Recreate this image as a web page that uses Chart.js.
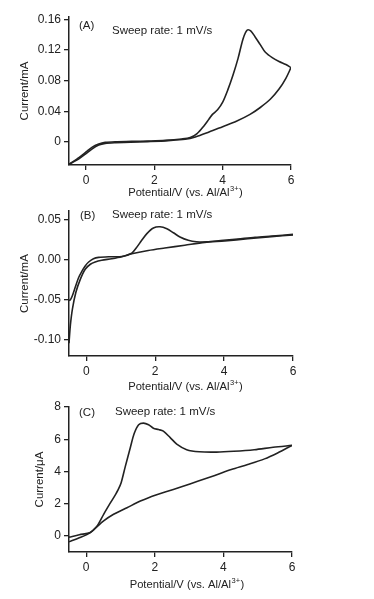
<!DOCTYPE html>
<html>
<head>
<meta charset="utf-8">
<script src="https://cdn.jsdelivr.net/npm/chart.js"></script>
<style>
  body { margin: 0; background: #fff; width: 374px; height: 599px; position: relative; overflow: hidden; }
  canvas { position: absolute; left: 0; }
</style>
</head>
<body>
<canvas id="chartA" width="374" height="201" style="top:0px"></canvas>
<canvas id="chartB" width="374" height="193" style="top:201px"></canvas>
<canvas id="chartC" width="374" height="205" style="top:394px"></canvas>
<script>
// shared x axis
const potentialTicks = [0, 2, 4, 6];

// (A) current in mA
const potA_fwd = [-0.5, -0.2, 0.0, 0.17, 0.37, 0.56, 0.86, 1.34, 1.83, 2.32, 2.8, 3.05, 3.25, 3.45, 3.6, 3.7, 3.85, 4.0, 4.15, 4.3, 4.45, 4.6, 4.72, 4.82, 4.95, 5.1, 5.25, 5.45, 5.65, 5.85, 6.0];
const curA_fwd = [-0.029, -0.02, -0.013, -0.007, -0.0027, -0.0005, 0.0004, 0.0008, 0.0013, 0.0021, 0.0039, 0.0058, 0.011, 0.021, 0.03, 0.036, 0.042, 0.052, 0.068, 0.087, 0.109, 0.135, 0.146, 0.145, 0.137, 0.127, 0.117, 0.11, 0.105, 0.101, 0.097];
const potA_rev = [6.0, 5.85, 5.65, 5.4, 5.1, 4.8, 4.4, 4.0, 3.6, 3.2, 2.9, 2.4, 1.8, 1.3, 0.86, 0.56, 0.37, 0.17, -0.02, -0.22, -0.4, -0.5];
const curA_rev = [0.097, 0.083, 0.069, 0.056, 0.045, 0.036, 0.027, 0.02, 0.013, 0.0065, 0.0035, 0.0018, 0.0005, -0.0004, -0.0009, -0.0018, -0.004, -0.0092, -0.0158, -0.0223, -0.0267, -0.029];
const yTicksA = [0, 0.04, 0.08, 0.12, 0.16];
const yLabelsA = ["0", "0.04", "0.08", "0.12", "0.16"];

// (B) current in mA
const potB_fwd = [-0.5, -0.46, -0.4, -0.32, -0.22, -0.12, -0.03, 0.07, 0.21, 0.36, 0.65, 1.03, 1.32, 1.45, 1.6, 1.76, 1.95, 2.14, 2.34, 2.53, 2.72, 2.96, 3.2, 3.5, 3.9, 4.4, 4.9, 5.4, 6.0];
const curB_fwd = [-0.0505, -0.0498, -0.0444, -0.0342, -0.0218, -0.0136, -0.0074, -0.0025, 0.0016, 0.0033, 0.0041, 0.0043, 0.0085, 0.015, 0.024, 0.033, 0.04, 0.0415, 0.039, 0.034, 0.0288, 0.0247, 0.0228, 0.0226, 0.0243, 0.0263, 0.0284, 0.03, 0.032];
const potB_rev = [6.0, 5.37, 4.69, 4.02, 3.44, 2.86, 2.28, 1.8, 1.32, 1.03, 0.74, 0.45, 0.26, 0.12, -0.03, -0.17, -0.3, -0.4, -0.46, -0.5];
const curB_rev = [0.0313, 0.0292, 0.0265, 0.0238, 0.022, 0.0185, 0.015, 0.0119, 0.0078, 0.0041, 0.0016, -0.0004, -0.0025, -0.0053, -0.0115, -0.0239, -0.0403, -0.061, -0.0815, -0.104];
const yTicksB = [-0.1, -0.05, 0, 0.05];
const yLabelsB = ["-0.10", "-0.05", "0.00", "0.05"];

// (C) current in uA
const potC_fwd = [-0.5, -0.2, 0.12, 0.32, 0.51, 0.71, 0.85, 0.93, 1.02, 1.14, 1.29, 1.4, 1.53, 1.67, 1.82, 1.96, 2.11, 2.25, 2.45, 2.64, 2.93, 3.3, 3.8, 4.3, 4.9, 5.45, 6.0];
const curC_fwd = [-0.08, 0.07, 0.21, 0.62, 1.34, 2.06, 2.55, 2.85, 3.3, 4.3, 5.5, 6.35, 6.9, 7.0, 6.9, 6.68, 6.6, 6.5, 6.1, 5.7, 5.35, 5.22, 5.2, 5.25, 5.35, 5.5, 5.62];
const potC_rev = [6.0, 5.58, 5.2, 4.71, 4.23, 3.75, 3.27, 2.78, 2.3, 1.82, 1.58, 1.19, 0.8, 0.51, 0.27, 0.1, -0.2, -0.5];
const curC_rev = [5.62, 5.15, 4.78, 4.43, 4.12, 3.75, 3.4, 3.05, 2.72, 2.37, 2.16, 1.75, 1.34, 0.93, 0.48, 0.17, -0.12, -0.37];
const yTicksC = [0, 2, 4, 6, 8];
const yLabelsC = ["0", "2", "4", "6", "8"];

const sweepText = "Sweep rate: 1 mV/s";
const FONT = '"Liberation Sans", Arial, sans-serif';
const INK = "#222";

const toPoints = (xs, ys) => xs.map((x, i) => ({ x: x, y: ys[i] }));

// panel letter, sweep rate note and the x title with its superscript
const panelText = {
  id: "panelText",
  afterDraw(chart, args, opts) {
    const ctx = chart.ctx;
    const area = chart.chartArea;
    ctx.save();
    ctx.fillStyle = INK;
    ctx.textBaseline = "middle";
    ctx.textAlign = "left";
    ctx.font = "11.5px " + FONT;
    ctx.fillText(opts.label, opts.labelX, opts.labelY);
    ctx.fillText(sweepText, opts.sweepX, opts.sweepY);

    const main = "Potential/V (vs. Al/Al";
    const sup = "3+";
    const tail = ")";
    ctx.font = "11.2px " + FONT;
    const wMain = ctx.measureText(main).width;
    const wTail = ctx.measureText(tail).width;
    ctx.font = "7.5px " + FONT;
    const wSup = ctx.measureText(sup).width;
    let x = (area.left + area.right) / 2 + opts.titleShift - (wMain + wSup + wTail) / 2;
    const y = opts.titleY;
    ctx.font = "11.2px " + FONT;
    ctx.fillText(main, x, y);
    x += wMain;
    ctx.font = "7.5px " + FONT;
    ctx.fillText(sup, x + 0.5, y - 4);
    x += wSup + 1;
    ctx.font = "11.2px " + FONT;
    ctx.fillText(tail, x, y);
    ctx.restore();
  }
};

function makePanel(id, p) {
  const line = (xs, ys) => ({
    data: toPoints(xs, ys),
    showLine: true,
    borderColor: INK,
    borderWidth: 1.6,
    pointRadius: 0,
    tension: 0.3,
    fill: false
  });
  return new Chart(document.getElementById(id), {
    type: "scatter",
    data: { datasets: [line(p.fwdX, p.fwdY), line(p.revX, p.revY)] },
    plugins: [panelText],
    options: {
      responsive: false,
      animation: false,
      events: [],
      layout: { padding: p.padding },
      plugins: {
        legend: { display: false },
        tooltip: { enabled: false },
        panelText: p.text
      },
      scales: {
        x: {
          type: "linear",
          min: -0.5,
          max: 6,
          afterBuildTicks: (s) => { s.ticks = potentialTicks.map((v) => ({ value: v })); },
          afterFit: (s) => { s.height = p.xHeight; },
          ticks: { color: INK, font: { family: FONT, size: 12 }, padding: 3, callback: (v) => String(v) },
          grid: { display: true, drawOnChartArea: false, drawTicks: true, tickLength: 5, color: INK, lineWidth: 1.3 },
          border: { display: true, color: INK, width: 1.5 }
        },
        y: {
          type: "linear",
          min: p.yMin,
          max: p.yMax,
          afterBuildTicks: (s) => { s.ticks = p.yTicks.map((v) => ({ value: v })); },
          afterFit: (s) => { s.width = p.yWidth; },
          ticks: { color: INK, font: { family: FONT, size: 12 }, padding: 3, callback: (v, i) => p.yLabels[i] },
          grid: { display: true, drawOnChartArea: false, drawTicks: true, tickLength: 5, color: INK, lineWidth: 1.3 },
          border: { display: true, color: INK, width: 1.5 },
          title: { display: true, text: p.yTitle, color: INK, font: { family: FONT, size: 11.5 }, padding: { top: 4, bottom: 4 } }
        }
      }
    }
  });
}

makePanel("chartA", {
  fwdX: potA_fwd, fwdY: curA_fwd, revX: potA_rev, revY: curA_rev,
  yMin: -0.03, yMax: 0.163, yTicks: yTicksA, yLabels: yLabelsA, yTitle: "Current/mA",
  padding: { top: 17, right: 83, bottom: 0, left: 14 }, yWidth: 55, xHeight: 36,
  text: { label: "(A)", labelX: 79, labelY: 26, sweepX: 112, sweepY: 31, titleY: 193, titleShift: 5 }
});

makePanel("chartB", {
  fwdX: potB_fwd, fwdY: curB_fwd, revX: potB_rev, revY: curB_rev,
  yMin: -0.12, yMax: 0.061, yTicks: yTicksB, yLabels: yLabelsB, yTitle: "Current/mA",
  padding: { top: 9, right: 81, bottom: 0, left: 14 }, yWidth: 55, xHeight: 38,
  text: { label: "(B)", labelX: 80, labelY: 15, sweepX: 112, sweepY: 14, titleY: 186, titleShift: 4 }
});

makePanel("chartC", {
  fwdX: potC_fwd, fwdY: curC_fwd, revX: potC_rev, revY: curC_rev,
  yMin: -1, yMax: 8, yTicks: yTicksC, yLabels: yLabelsC, yTitle: "Current/\u03bcA",
  padding: { top: 13, right: 82, bottom: 7, left: 29 }, yWidth: 40, xHeight: 40,
  text: { label: "(C)", labelX: 79, labelY: 19, sweepX: 115, sweepY: 18, titleY: 191, titleShift: 6 }
});
</script>
</body>
</html>
